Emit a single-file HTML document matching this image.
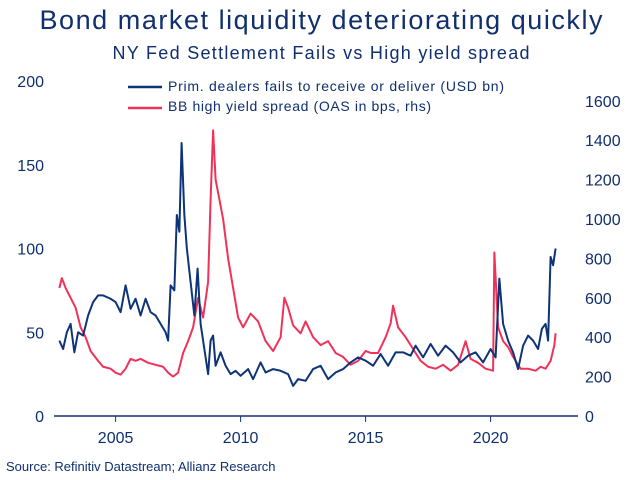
<!DOCTYPE html>
<html><head><meta charset="utf-8"><style>
body{margin:0;background:#fff;}
svg{display:block;font-family:"Liberation Sans",sans-serif;}
</style></head><body>
<svg id="c" width="640" height="480">
<text x="321" y="29" text-anchor="middle" font-size="27" fill="#0f2f6e" textLength="563">Bond market liquidity deteriorating quickly</text>
<text x="321" y="59" text-anchor="middle" font-size="18" fill="#0f2f6e" textLength="417">NY Fed Settlement Fails vs High yield spread</text>
<g>
<line x1="128" y1="87" x2="162" y2="87" stroke="#0e3478" stroke-width="2.5"/>
<text x="168" y="91" font-size="14" fill="#0f2f6e" textLength="336">Prim. dealers fails to receive or deliver (USD bn)</text>
<line x1="128" y1="108" x2="162" y2="108" stroke="#f0325a" stroke-width="2.5"/>
<text x="168" y="111" font-size="14" fill="#0f2f6e" textLength="263">BB high yield spread (OAS in bps, rhs)</text>
</g>
<text x="6" y="471" font-size="13" fill="#0f2f6e">Source: Refinitiv Datastream; Allianz Research</text>
</svg>
<script>
const leftTicks=[0,50,100,150,200];
const rightTicks=[0,200,400,600,800,1000,1200,1400,1600];
const yearTicks=[2005,2010,2015,2020];
const failsDates=[2002.75,2002.9,2003.05,2003.2,2003.35,2003.5,2003.7,2003.9,2004.1,2004.3,2004.5,2004.8,2005.0,2005.2,2005.4,2005.6,2005.8,2006.0,2006.2,2006.4,2006.6,2006.8,2007.0,2007.1,2007.2,2007.35,2007.45,2007.55,2007.64,2007.75,2007.85,2008.0,2008.15,2008.28,2008.4,2008.55,2008.7,2008.8,2008.9,2009.0,2009.2,2009.4,2009.6,2009.8,2010.0,2010.3,2010.5,2010.8,2011.0,2011.3,2011.6,2011.9,2012.1,2012.3,2012.6,2012.9,2013.2,2013.5,2013.8,2014.1,2014.4,2014.7,2015.0,2015.3,2015.6,2015.9,2016.2,2016.5,2016.8,2017.0,2017.3,2017.6,2017.9,2018.2,2018.5,2018.8,2019.1,2019.4,2019.7,2020.0,2020.2,2020.35,2020.5,2020.7,2020.9,2021.1,2021.3,2021.5,2021.7,2021.9,2022.05,2022.2,2022.3,2022.4,2022.5,2022.6];
const failsValues=[45,40,50,55,38,50,48,60,68,72,72,70,68,62,78,64,70,60,70,62,60,55,50,45,78,75,120,110,163,120,100,80,60,88,55,40,25,45,48,30,38,30,25,27,24,28,22,32,26,28,27,25,18,22,21,28,30,22,26,28,32,35,33,30,37,30,38,38,36,42,35,43,36,42,38,32,36,38,32,40,35,82,55,45,38,28,42,48,45,40,52,55,45,95,90,100];
const spreadDates=[2002.75,2002.85,2003.0,2003.2,2003.4,2003.6,2003.8,2004.0,2004.3,2004.5,2004.8,2005.0,2005.2,2005.4,2005.6,2005.8,2006.0,2006.3,2006.6,2006.9,2007.1,2007.3,2007.5,2007.7,2007.9,2008.1,2008.3,2008.5,2008.7,2008.8,2008.9,2009.0,2009.15,2009.3,2009.5,2009.7,2009.9,2010.1,2010.4,2010.7,2011.0,2011.3,2011.6,2011.75,2011.9,2012.1,2012.4,2012.6,2012.9,2013.2,2013.5,2013.8,2014.1,2014.4,2014.7,2015.0,2015.2,2015.5,2015.8,2016.0,2016.1,2016.3,2016.6,2016.9,2017.2,2017.5,2017.8,2018.1,2018.4,2018.7,2019.0,2019.2,2019.5,2019.8,2020.1,2020.15,2020.3,2020.5,2020.7,2020.9,2021.2,2021.5,2021.8,2022.0,2022.2,2022.4,2022.55,2022.6];
const spreadValues=[650,700,650,600,550,450,400,330,280,250,240,220,210,240,290,280,290,270,260,250,220,200,220,320,380,450,600,500,680,1100,1450,1200,1100,1000,800,650,500,450,520,480,380,330,400,600,550,460,420,480,400,360,380,320,300,260,280,330,320,320,400,470,560,450,400,340,280,250,240,260,230,260,380,290,270,240,230,830,450,380,350,300,240,240,230,250,240,280,360,420];

const NS="http://www.w3.org/2000/svg";
const svg=document.getElementById('c');
const X=y=>115.6+(y-2005)*25;
const YL=v=>416-v*1.675;
const YR=v=>416-v*0.197;
function mk(t,a){const e=document.createElementNS(NS,t);for(const k in a)e.setAttribute(k,a[k]);svg.appendChild(e);return e;}
const ax=mk('line',{x1:54,y1:416,x2:578,y2:416,stroke:'#0e3478','stroke-width':1.5});


yearTicks.forEach(y=>{
 const t=mk('line',{x1:X(y),y1:416,x2:X(y),y2:422,stroke:'#0e3478','stroke-width':1});
 
 
 const l=mk('text',{x:X(y),y:443,'text-anchor':'middle','font-size':16,fill:'#0f2f6e'});l.textContent=y;
 
 
});
leftTicks.forEach(v=>{
 const l=mk('text',{x:44,y:YL(v)+6,'text-anchor':'end','font-size':16,fill:'#0f2f6e'});l.textContent=v;
 
 
});
rightTicks.forEach(v=>{
 const l=mk('text',{x:585,y:YR(v)+6,'font-size':16,fill:'#0f2f6e'});l.textContent=v;
 
 
});
const pp=mk('polyline',{points:spreadDates.map((d,i)=>X(d)+','+YR(spreadValues[i])).join(' '),fill:'none',stroke:'#f0325a','stroke-width':2,'stroke-linejoin':'round'});


const bp=mk('polyline',{points:failsDates.map((d,i)=>X(d)+','+YL(failsValues[i])).join(' '),fill:'none',stroke:'#0e3478','stroke-width':2,'stroke-linejoin':'round'});


</script>
</body></html>
